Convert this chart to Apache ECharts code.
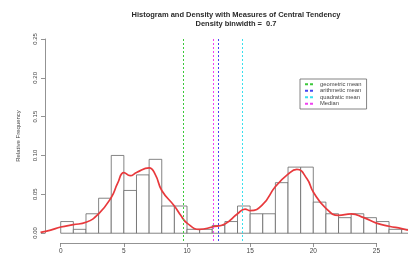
<!DOCTYPE html>
<html>
<head>
<meta charset="utf-8">
<script src="https://cdn.jsdelivr.net/npm/echarts@6/dist/echarts.min.js"></script>
<style>
  html, body { margin: 0; padding: 0; background: #fff; }
  #main { width: 408px; height: 266px; }
</style>
</head>
<body>
<div id="main"></div>
<script>
// histogram bins (width 1) and relative frequencies
var binStarts = [0, 1, 2, 3, 4, 5, 6, 7, 8, 9, 10, 11, 12, 13, 14, 15, 16, 17, 18, 19, 20, 21, 22, 23, 24, 25, 26, 27];
var binFreqs = [0.015, 0.005, 0.025, 0.045, 0.10, 0.055, 0.075, 0.095, 0.035, 0.035, 0.005, 0.005, 0.01, 0.015,
                0.035, 0.025, 0.025, 0.065, 0.085, 0.085, 0.04, 0.025, 0.02, 0.025, 0.02, 0.015, 0.005, 0.005];

// density curve
var densX = [-1.6, -0.8, 0, 1, 2, 3, 4, 4.5, 5, 5.5, 6, 7, 7.5, 8, 9, 9.5, 10, 11, 12, 13, 14, 14.6, 15, 16, 17, 18, 18.7, 19.5, 20, 21, 22, 23, 24, 25, 26, 27, 27.5];
var densY = [0.001, 0.004, 0.008, 0.011, 0.014, 0.025, 0.046, 0.064, 0.078, 0.074, 0.078, 0.084, 0.075, 0.055, 0.035, 0.023, 0.013, 0.005, 0.008, 0.012,
             0.025, 0.031, 0.029, 0.037, 0.060, 0.076, 0.082, 0.070, 0.053, 0.032, 0.023, 0.025, 0.020, 0.013, 0.009, 0.006, 0.004];

// measures of central tendency
var measureNames = ['geometric mean', 'arithmetic mean', 'quadratic mean', 'Median'];
var measureValues = [9.7, 12.5, 14.4, 12.1];
var measureColors = ['#3cc83c', '#4646f0', '#38e0ee', '#f040f0'];

var xTicks = [0, 25, 5];
var yTicks = [0, 0.25, 0.05];

var myChart = echarts.init(document.getElementById('main'));

var histData = binStarts.map(function (s, i) { return [s, s + 1, binFreqs[i]]; });
var densData = densX.map(function (x, i) { return [x, densY[i]]; });

var series = [{
    type: 'custom',
    xAxisIndex: 0,
    yAxisIndex: 0,
    data: histData,
    silent: true,
    z: 2,
    renderItem: function (params, api) {
        var p0 = api.coord([api.value(0), 0]);
        var p1 = api.coord([api.value(1), api.value(2)]);
        return {
            type: 'rect',
            shape: { x: p0[0], y: p1[1], width: p1[0] - p0[0], height: p0[1] - p1[1] },
            style: { fill: '#fff', stroke: '#666', lineWidth: 0.8 }
        };
    }
}, {
    type: 'line',
    xAxisIndex: 0,
    yAxisIndex: 0,
    data: densData,
    smooth: true,
    showSymbol: false,
    lineStyle: { color: '#e8393c', width: 1.7 },
    z: 4
}];

measureNames.forEach(function (name, i) {
    series.push({
        name: name,
        type: 'line',
        xAxisIndex: 0,
        yAxisIndex: 0,
        data: [],
        itemStyle: { color: measureColors[i] },
        z: 3,
        markLine: {
            silent: true,
            symbol: 'none',
            label: { show: false },
            lineStyle: { color: measureColors[i], type: [2, 2], width: 1 },
            data: [[{ coord: [measureValues[i], -0.01] }, { coord: [measureValues[i], 0.25] }]]
        }
    });
});

var option = {
    backgroundColor: '#fff',
    animation: false,
    title: {
        text: 'Histogram and Density with Measures of Central Tendency\nDensity binwidth =  0.7',
        left: 231,
        top: 6,
        textAlign: 'center',
        textStyle: { fontSize: 7.5, fontWeight: 'bold', color: '#2a2a2a', lineHeight: 8.5, fontFamily: 'Liberation Sans' }
    },
    legend: {
        data: measureNames,
        orient: 'vertical',
        left: 300,
        top: 79,
        itemWidth: 8,
        itemHeight: 2,
        itemGap: 0,
        padding: [2, 5, 2, 5],
        borderColor: '#666',
        borderWidth: 0.8,
        borderRadius: 0,
        icon: 'path://M0,0h3v2h-3zM5,0h3v2h-3z',
        textStyle: { fontSize: 5.8, lineHeight: 6.5, color: '#444', padding: [0, 0, 0, 2], fontFamily: 'Liberation Sans' }
    },
    grid: [
        { left: 38, right: 0, top: 31, bottom: 25 },
        { left: 60.7, right: 31.55, top: 39, bottom: 23 },
        { left: 45, width: 10, top: 39, bottom: 33 }
    ],
    xAxis: [
        { gridIndex: 0, type: 'value', min: -1.8, max: 27.5, show: false },
        {
            gridIndex: 1, type: 'value', min: xTicks[0], max: xTicks[1], interval: xTicks[2],
            axisLine: { lineStyle: { color: '#777', width: 0.8 } },
            axisTick: { length: 4, lineStyle: { color: '#777', width: 0.8 } },
            axisLabel: { fontSize: 6.5, color: '#444', margin: 5, fontFamily: 'Liberation Sans' },
            splitLine: { show: false }
        },
        { gridIndex: 2, type: 'value', show: false }
    ],
    yAxis: [
        { gridIndex: 0, type: 'value', min: -0.01, max: 0.26, show: false },
        { gridIndex: 1, type: 'value', show: false },
        {
            gridIndex: 2, type: 'value', min: yTicks[0], max: yTicks[1], interval: yTicks[2],
            name: 'Relative Frequency',
            nameLocation: 'middle',
            nameGap: 24,
            nameRotate: 90,
            nameTextStyle: { fontSize: 6, color: '#444', fontFamily: 'Liberation Sans' },
            axisLine: { show: true, lineStyle: { color: '#777', width: 0.8 } },
            axisTick: { show: true, length: 4, lineStyle: { color: '#777', width: 0.8 } },
            axisLabel: {
                fontSize: 6, color: '#444', rotate: 90, margin: 7, fontFamily: 'Liberation Sans',
                formatter: function (v) { return v.toFixed(2); }
            },
            splitLine: { show: false }
        }
    ],
    series: series
};

myChart.setOption(option);
</script>
</body>
</html>
